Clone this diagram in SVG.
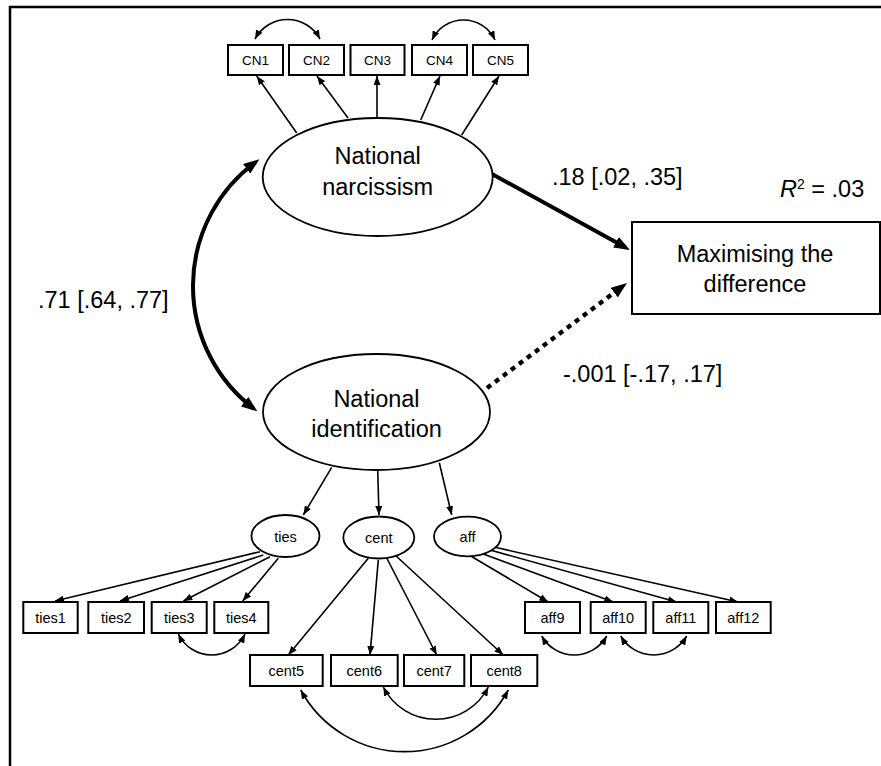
<svg xmlns="http://www.w3.org/2000/svg" width="881" height="766" viewBox="0 0 881 766">
<style>
.frame{fill:none;stroke:#000;stroke-width:2.5}
.box{fill:#fff;stroke:#000;stroke-width:2}
.ell{fill:#fff;stroke:#000;stroke-width:1.8}
.thin{fill:none;stroke:#000;stroke-width:1.6;marker-end:url(#a)}
.cov{fill:none;stroke:#000;stroke-width:1.6;marker-start:url(#a);marker-end:url(#a)}
.thick{fill:none;stroke:#000;stroke-width:4;marker-end:url(#t)}
.corr{fill:none;stroke:#000;stroke-width:4;marker-start:url(#t);marker-end:url(#t)}
.dot{fill:none;stroke:#000;stroke-width:4.5;stroke-dasharray:5 5;marker-end:url(#t)}
.big{font-family:"Liberation Sans",Arial,sans-serif;font-size:23.5px;fill:#000}
.sm{font-family:"Liberation Sans",Arial,sans-serif;font-size:14.5px;fill:#000;text-anchor:middle}
.cn{font-family:"Liberation Sans",Arial,sans-serif;font-size:13.5px;fill:#000;text-anchor:middle}
.mid{text-anchor:middle}
</style>
<defs>
<marker id="a" viewBox="0 0 9 7" markerWidth="9" markerHeight="7" markerUnits="userSpaceOnUse" refX="9" refY="3.5" orient="auto-start-reverse"><path d="M0,0 L9,3.5 L0,7 z" fill="#000"/></marker>
<marker id="t" viewBox="0 0 16 12" markerWidth="16" markerHeight="12" markerUnits="userSpaceOnUse" refX="11" refY="6" orient="auto-start-reverse"><path d="M0,0 L16,6 L0,12 z" fill="#000"/></marker>
</defs>
<rect width="881" height="766" fill="#fff"/>
<path class="frame" d="M10,766 V7 H881"/>

<g id="connectors">
<path class="thin" d="M296.7,133 L256.7,76"/>
<path class="thin" d="M348,118 L317,76"/>
<path class="thin" d="M377,118 L377,76"/>
<path class="thin" d="M420.7,120 L440,76"/>
<path class="thin" d="M461.7,135 L499,76"/>
<path class="cov" d="M255,39 A36.8,36.8 0 0 1 320,39"/>
<path class="cov" d="M432,40 A34.8,34.8 0 0 1 495,40"/>
<path class="corr" d="M255.4,162.3 A153.9,153.9 0 0 0 253.4,408.3"/>
<path class="thick" d="M492,174 L625.6,247.6"/>
<path class="dot" d="M487,388 L623,286"/>
<path class="thin" d="M331.7,467.3 L303.3,515"/>
<path class="thin" d="M377.7,470 L379,515"/>
<path class="thin" d="M439.3,462.7 L451.7,515"/>
<path class="thin" d="M260,551.7 L55,601"/>
<path class="thin" d="M263.3,555 L120,601"/>
<path class="thin" d="M270,556.7 L183.3,601"/>
<path class="thin" d="M278.3,558.3 L242.7,601"/>
<path class="thin" d="M368.3,558.3 L288.3,655"/>
<path class="thin" d="M378.3,560 L370,655"/>
<path class="thin" d="M386.7,558 L436.7,655"/>
<path class="thin" d="M395,555 L503.3,655"/>
<path class="thin" d="M470.7,556 L548.3,602"/>
<path class="thin" d="M483.3,554 L613.3,602"/>
<path class="thin" d="M490,550 L676.7,602"/>
<path class="thin" d="M495,547.3 L738.3,602"/>
<path class="cov" d="M178.3,634 A37,37 0 0 0 245,634"/>
<path class="cov" d="M383.3,687 A58.8,58.8 0 0 0 488.3,687"/>
<path class="cov" d="M300.7,690 A118.2,118.2 0 0 0 508.3,690"/>
<path class="cov" d="M541.7,636 A37.3,37.3 0 0 0 606.7,636"/>
<path class="cov" d="M620.7,636 A38.2,38.2 0 0 0 686.7,636"/>
</g>

<g id="CN1"><rect class="box" x="228" y="45" width="55" height="30"/><text class="cn" x="255.5" y="64.8">CN1</text></g>
<g id="CN2"><rect class="box" x="289" y="45" width="55" height="30"/><text class="cn" x="316.5" y="64.8">CN2</text></g>
<g id="CN3"><rect class="box" x="350.5" y="45" width="54" height="30"/><text class="cn" x="377.5" y="64.8">CN3</text></g>
<g id="CN4"><rect class="box" x="412" y="45" width="55" height="30"/><text class="cn" x="439.5" y="64.8">CN4</text></g>
<g id="CN5"><rect class="box" x="473" y="45" width="55" height="30"/><text class="cn" x="500.5" y="64.8">CN5</text></g>

<g id="narcissism"><ellipse class="ell" cx="377.7" cy="177" rx="115" ry="59"/><text class="big mid" x="377.7" y="163.5">National</text><text class="big mid" x="377.7" y="195">narcissism</text></g>
<g id="identification"><ellipse class="ell" cx="376.5" cy="412" rx="113.5" ry="58"/><text class="big mid" x="376.5" y="406.5">National</text><text class="big mid" x="376.5" y="436.5">identification</text></g>
<g id="maximising"><rect class="box" x="632" y="222" width="248" height="92"/><text class="big mid" x="755" y="261.7">Maximising the</text><text class="big mid" x="755" y="291.7">difference</text></g>

<g id="labels">
<text class="big" x="552" y="185">.18 [.02, .35]</text>
<text class="big" x="780" y="197"><tspan font-style="italic">R</tspan><tspan dy="-8" font-size="14">2</tspan><tspan dy="8"> = .03</tspan></text>
<text class="big" x="38" y="308">.71 [.64, .77]</text>
<text class="big" x="563" y="381.7">-.001 [-.17, .17]</text>
</g>

<g id="ties"><ellipse class="ell" cx="285.5" cy="536" rx="34" ry="21"/><text class="sm" x="285.5" y="541.5">ties</text></g>
<g id="cent"><ellipse class="ell" cx="378.8" cy="537.5" rx="35.5" ry="21"/><text class="sm" x="378.8" y="543">cent</text></g>
<g id="aff"><ellipse class="ell" cx="467.5" cy="536.5" rx="33.5" ry="19.8"/><text class="sm" x="467.5" y="542">aff</text></g>

<g id="ties1"><rect class="box" x="23.3" y="602" width="54.4" height="31"/><text class="sm" x="50.5" y="623">ties1</text></g>
<g id="ties2"><rect class="box" x="88.3" y="602" width="55.7" height="31"/><text class="sm" x="116.2" y="623">ties2</text></g>
<g id="ties3"><rect class="box" x="151.7" y="602" width="55" height="31"/><text class="sm" x="179.2" y="623">ties3</text></g>
<g id="ties4"><rect class="box" x="214.3" y="602" width="54" height="31"/><text class="sm" x="241.3" y="623">ties4</text></g>

<g id="cent5"><rect class="box" x="250" y="655" width="72.7" height="31"/><text class="sm" x="286.3" y="675.8">cent5</text></g>
<g id="cent6"><rect class="box" x="331" y="655" width="66.7" height="31"/><text class="sm" x="364.3" y="675.8">cent6</text></g>
<g id="cent7"><rect class="box" x="404" y="655" width="60.3" height="31"/><text class="sm" x="434.2" y="675.8">cent7</text></g>
<g id="cent8"><rect class="box" x="471" y="655" width="66.3" height="31"/><text class="sm" x="504.2" y="675.8">cent8</text></g>

<g id="aff9"><rect class="box" x="525" y="602" width="55" height="31"/><text class="sm" x="552.5" y="623">aff9</text></g>
<g id="aff10"><rect class="box" x="590.7" y="602" width="55" height="31"/><text class="sm" x="618.2" y="623">aff10</text></g>
<g id="aff11"><rect class="box" x="653.3" y="602" width="55" height="31"/><text class="sm" x="680.8" y="623">aff11</text></g>
<g id="aff12"><rect class="box" x="716" y="602" width="54.7" height="31"/><text class="sm" x="743.3" y="623">aff12</text></g>
</svg>
